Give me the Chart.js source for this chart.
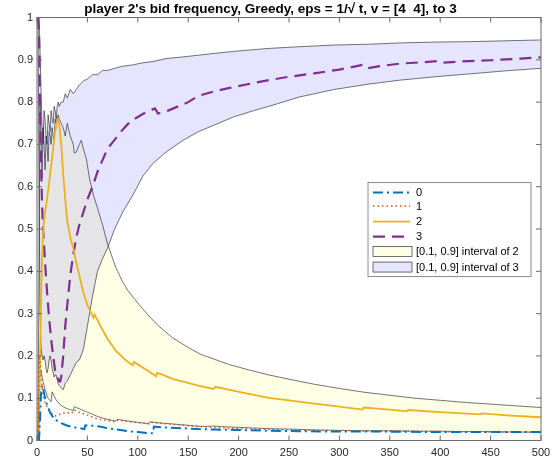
<!DOCTYPE html>
<html>
<head>
<meta charset="utf-8">
<script src="https://cdn.jsdelivr.net/npm/chart.js@4.4.1/dist/chart.umd.min.js"></script>
<style>
  html, body { margin: 0; padding: 0; background: #fff; }
  #wrap { width: 559px; height: 467px; }
</style>
</head>
<body>
<div id="wrap"><canvas id="bidChart" width="559" height="467"></canvas></div>
<script>
// bid 0 (blue dash-dot)
var t0 = [1, 2, 3, 4, 5, 6, 8, 10, 13, 16, 19, 23, 29, 35, 40, 45, 47, 48, 55, 62, 70, 79, 90, 100, 109, 115, 116, 125, 145, 160, 175, 200, 230, 260, 300, 350, 400, 450, 500];
var freq0 = [0, 0, 0.05, 0.11, 0.13, 0.125, 0.1, 0.085, 0.066, 0.055, 0.048, 0.042, 0.036, 0.032, 0.03, 0.028, 0.027, 0.036, 0.035, 0.033, 0.029, 0.026, 0.022, 0.02, 0.018, 0.017, 0.033, 0.031, 0.029, 0.027, 0.026, 0.025, 0.023, 0.022, 0.021, 0.021, 0.02, 0.02, 0.02];

// bid 1 (red dotted)
var t1 = [1, 2, 3, 4, 5, 6, 8, 10, 12, 14, 16, 18, 20, 23, 26, 30, 33, 36, 37, 40, 45, 50, 55, 62, 70, 79, 80, 90, 100, 112, 113, 125, 150, 175, 200, 250, 300, 350, 400, 450, 500];
var freq1 = [0, 0.2, 0.19, 0.16, 0.13, 0.11, 0.09, 0.08, 0.072, 0.066, 0.06, 0.058, 0.06, 0.062, 0.065, 0.064, 0.068, 0.066, 0.072, 0.068, 0.064, 0.06, 0.055, 0.05, 0.047, 0.044, 0.048, 0.045, 0.042, 0.039, 0.043, 0.04, 0.035, 0.031, 0.028, 0.025, 0.023, 0.022, 0.021, 0.02, 0.019];

// bid 2 (orange solid)
var t2 = [1, 2, 3, 4, 5, 6, 7, 8, 10, 12, 14, 16, 18, 20, 21, 22, 24, 26, 28, 30, 33, 36, 39, 42, 46, 50, 54, 56, 57, 60, 63, 70, 79, 88, 95, 96, 100, 110, 118, 119, 125, 135, 145, 160, 175, 177, 190, 210, 230, 250, 275, 300, 323, 324, 350, 367, 368, 400, 440, 441, 470, 500];
var freq2 = [0, 0.0, 0.2, 0.32, 0.43, 0.49, 0.52, 0.54, 0.57, 0.61, 0.65, 0.69, 0.73, 0.755, 0.76, 0.75, 0.7, 0.63, 0.57, 0.52, 0.48, 0.455, 0.42, 0.39, 0.35, 0.32, 0.3, 0.29, 0.298, 0.285, 0.27, 0.24, 0.21, 0.19, 0.178, 0.186, 0.18, 0.165, 0.152, 0.16, 0.155, 0.145, 0.139, 0.13, 0.122, 0.127, 0.12, 0.11, 0.101, 0.095, 0.087, 0.08, 0.073, 0.078, 0.073, 0.069, 0.072, 0.067, 0.062, 0.064, 0.059, 0.055];

// bid 3 (purple dashed)
var t3 = [1, 2, 3, 4, 5, 6, 8, 10, 12, 14, 16, 18, 20, 22, 23, 24, 26, 28, 30, 33, 36, 39, 42, 46, 50, 55, 60, 65, 70, 75, 80, 85, 90, 95, 100, 105, 110, 117, 120, 125, 130, 140, 150, 160, 175, 190, 210, 230, 250, 275, 300, 323, 327, 340, 360, 380, 398, 402, 420, 450, 480, 500];
var freq3 = [1, 0.97, 0.8, 0.65, 0.56, 0.5, 0.42, 0.35, 0.29, 0.24, 0.2, 0.165, 0.15, 0.14, 0.14, 0.15, 0.2, 0.27, 0.32, 0.39, 0.44, 0.48, 0.51, 0.54, 0.57, 0.6, 0.635, 0.663, 0.69, 0.705, 0.72, 0.735, 0.748, 0.758, 0.765, 0.772, 0.778, 0.785, 0.773, 0.776, 0.78, 0.79, 0.8, 0.815, 0.825, 0.833, 0.843, 0.852, 0.86, 0.868, 0.877, 0.888, 0.88, 0.885, 0.891, 0.894, 0.897, 0.893, 0.896, 0.899, 0.903, 0.906];

// [0.1, 0.9] interval of 2
var tBand2 = [1, 2, 3, 4, 5, 6, 7, 8, 9, 10, 11, 12, 13, 14, 15, 16, 17, 18, 19, 20, 21, 22, 24, 26, 28, 30, 33, 36, 37, 39, 42, 44, 46, 49, 52, 56, 60, 65, 70, 78, 80, 85, 90, 100, 110, 112, 120, 135, 150, 162, 175, 190, 210, 230, 250, 275, 300, 325, 350, 375, 400, 425, 450, 475, 500];
var low2 = [0, 0.1, 0.16, 0.165, 0.15, 0.14, 0.13, 0.12, 0.115, 0.105, 0.1, 0.097, 0.094, 0.092, 0.115, 0.11, 0.105, 0.1, 0.096, 0.093, 0.09, 0.087, 0.083, 0.08, 0.077, 0.075, 0.073, 0.071, 0.08, 0.078, 0.075, 0.073, 0.071, 0.068, 0.065, 0.061, 0.057, 0.053, 0.05, 0.046, 0.05, 0.048, 0.046, 0.043, 0.04, 0.044, 0.042, 0.039, 0.036, 0.033, 0.034, 0.032, 0.03, 0.028, 0.027, 0.025, 0.024, 0.023, 0.023, 0.022, 0.022, 0.021, 0.021, 0.02, 0.02];
var high2 = [0, 0.45, 0.8, 0.72, 0.62, 0.74, 0.7, 0.64, 0.72, 0.7, 0.66, 0.73, 0.72, 0.7, 0.74, 0.72, 0.71, 0.76, 0.75, 0.76, 0.77, 0.76, 0.75, 0.74, 0.72, 0.75, 0.72, 0.7, 0.68, 0.682, 0.7, 0.71, 0.69, 0.666, 0.62, 0.58, 0.55, 0.51, 0.465, 0.41, 0.4, 0.375, 0.355, 0.325, 0.297, 0.292, 0.272, 0.242, 0.22, 0.204, 0.193, 0.18, 0.167, 0.155, 0.145, 0.133, 0.123, 0.114, 0.107, 0.1, 0.095, 0.09, 0.086, 0.082, 0.078];

// [0.1, 0.9] interval of 3
var tBand3 = [1, 2, 3, 4, 5, 6, 7, 8, 9, 10, 11, 12, 13, 14, 15, 16, 17, 18, 19, 20, 21, 22, 24, 26, 28, 30, 33, 36, 39, 42, 46, 50, 55, 60, 65, 70, 77, 85, 95, 105, 115, 128, 145, 160, 175, 195, 215, 230, 260, 295, 330, 360, 395, 430, 465, 500];
var low3 = [1, 0.6, 0.3, 0.22, 0.2, 0.19, 0.2, 0.19, 0.17, 0.16, 0.17, 0.19, 0.2, 0.19, 0.17, 0.16, 0.15, 0.155, 0.155, 0.145, 0.135, 0.13, 0.125, 0.12, 0.135, 0.14, 0.155, 0.17, 0.185, 0.19, 0.215, 0.27, 0.34, 0.4, 0.43, 0.455, 0.5, 0.54, 0.58, 0.625, 0.655, 0.682, 0.71, 0.73, 0.745, 0.765, 0.78, 0.79, 0.812, 0.83, 0.843, 0.852, 0.86, 0.867, 0.874, 0.88];
var high3 = [1, 1, 0.92, 0.83, 0.74, 0.7, 0.78, 0.76, 0.72, 0.7, 0.77, 0.75, 0.73, 0.78, 0.76, 0.75, 0.79, 0.78, 0.76, 0.79, 0.8, 0.79, 0.8, 0.8, 0.82, 0.81, 0.83, 0.82, 0.83, 0.84, 0.85, 0.855, 0.865, 0.865, 0.875, 0.875, 0.88, 0.885, 0.888, 0.893, 0.896, 0.903, 0.907, 0.911, 0.915, 0.92, 0.924, 0.927, 0.931, 0.935, 0.937, 0.94, 0.942, 0.943, 0.945, 0.947];

var xTicks = [0, 50, 100, 150, 200, 250, 300, 350, 400, 450, 500];
var yTicks = [0, 0.1, 0.2, 0.3, 0.4, 0.5, 0.6, 0.7, 0.8, 0.9, 1];

var FONT = '"Liberation Sans", Arial, Helvetica, sans-serif';

function pts(ts, vs) {
    return ts.map(function (t, i) { return { x: t, y: vs[i] }; });
}

function lineSet(label, ts, vs, color, width, dash) {
    return {
        label: label, data: pts(ts, vs), borderColor: color, borderWidth: width,
        borderDash: dash, pointRadius: 0, fill: false, tension: 0
    };
}

var edgeColor = 'rgba(20,20,20,0.85)';

// lines first (drawn on top); band 3 before band 2 so lavender lands over yellow
var datasets = [
    lineSet('0', t0, freq0, '#0072BD', 2, [10, 4, 2, 4]),
    lineSet('1', t1, freq1, '#D95319', 1.5, [1.5, 3]),
    lineSet('2', t2, freq2, '#EDB120', 1.8, []),
    lineSet('3', t3, freq3, '#7E2F8E', 2.2, [12, 7]),
    lineSet('low3', tBand3, low3, edgeColor, 0.7, []),
    Object.assign(lineSet('[0.1, 0.9] interval of 3', tBand3, high3, edgeColor, 0.7, []),
        { fill: '-1', backgroundColor: 'rgba(0,0,255,0.1)' }),
    lineSet('low2', tBand2, low2, edgeColor, 0.7, []),
    Object.assign(lineSet('[0.1, 0.9] interval of 2', tBand2, high2, edgeColor, 0.7, []),
        { fill: '-1', backgroundColor: 'rgba(255,255,0,0.1)' })
];

// box, inward ticks on all four sides, and the legend inside the axes
var matlabAxes = {
    id: 'matlabAxes',
    afterDraw: function (chart) {
        var ctx = chart.ctx, a = chart.chartArea;
        var xs = chart.scales.x, ys = chart.scales.y;
        ctx.save();
        ctx.setLineDash([]);
        ctx.strokeStyle = '#6b6b6b';
        ctx.lineWidth = 1;
        ctx.strokeRect(a.left, a.top, a.right - a.left, a.bottom - a.top);
        var tl = 5;
        ctx.beginPath();
        xTicks.forEach(function (v) {
            var px = xs.getPixelForValue(v);
            ctx.moveTo(px, a.bottom); ctx.lineTo(px, a.bottom - tl);
            ctx.moveTo(px, a.top); ctx.lineTo(px, a.top + tl);
        });
        yTicks.forEach(function (v) {
            var py = ys.getPixelForValue(v);
            ctx.moveTo(a.left, py); ctx.lineTo(a.left + tl, py);
            ctx.moveTo(a.right, py); ctx.lineTo(a.right - tl, py);
        });
        ctx.stroke();

        // legend
        var lx = a.right - 173, ly = a.top + 165, lw = 163, lh = 94;
        ctx.fillStyle = '#fff';
        ctx.fillRect(lx, ly, lw, lh);
        ctx.strokeStyle = '#8a8a8a';
        ctx.lineWidth = 1;
        ctx.strokeRect(lx, ly, lw, lh);
        var rows = [10, 23.5, 39, 54, 69, 84.5];
        var order = [0, 1, 2, 3, 7, 5];
        ctx.font = '11px ' + FONT;
        ctx.textBaseline = 'middle';
        order.forEach(function (di, i) {
            var ds = chart.data.datasets[di];
            var ry = ly + rows[i];
            if (ds.fill) {
                ctx.fillStyle = '#fff';
                ctx.fillRect(lx + 5, ry - 5, 39, 10);
                ctx.fillStyle = ds.backgroundColor;
                ctx.fillRect(lx + 5, ry - 5, 39, 10);
                ctx.strokeStyle = '#333';
                ctx.lineWidth = 0.7;
                ctx.setLineDash([]);
                ctx.strokeRect(lx + 5, ry - 5, 39, 10);
            } else {
                ctx.strokeStyle = ds.borderColor;
                ctx.lineWidth = ds.borderWidth;
                ctx.setLineDash(ds.borderDash);
                ctx.beginPath();
                ctx.moveTo(lx + 5, ry);
                ctx.lineTo(lx + 42, ry);
                ctx.stroke();
                ctx.setLineDash([]);
            }
            ctx.fillStyle = '#000';
            ctx.fillText(ds.label, lx + 48, ry + 0.5);
        });
        ctx.restore();
    }
};

new Chart(document.getElementById('bidChart'), {
    type: 'line',
    data: { datasets: datasets },
    plugins: [matlabAxes],
    options: {
        responsive: false,
        animation: false,
        layout: { padding: { left: 0, right: 18, top: 0, bottom: 0 } },
        plugins: {
            legend: { display: false },
            tooltip: { enabled: false },
            title: {
                display: true,
                text: "player 2's bid frequency, Greedy, eps = 1/\u221A t, v = [4  4], to 3",
                color: '#000',
                font: { family: FONT, size: 13.5, weight: 'bold', lineHeight: 1.1 },
                padding: { top: 2, bottom: 0.7 }
            }
        },
        scales: {
            x: {
                type: 'linear', min: 0, max: 500,
                afterFit: function (s) { s.height = 26.5; },
                afterBuildTicks: function (s) { s.ticks = xTicks.map(function (v) { return { value: v }; }); },
                grid: { display: false, drawTicks: false },
                border: { display: false },
                ticks: {
                    color: '#262626', padding: 6, maxRotation: 0, font: { family: FONT, size: 11 },
                    callback: function (v) { return String(v); }
                }
            },
            y: {
                type: 'linear', min: 0, max: 1,
                afterFit: function (s) { s.width = 37; },
                afterBuildTicks: function (s) { s.ticks = yTicks.map(function (v) { return { value: v }; }); },
                grid: { display: false, drawTicks: false },
                border: { display: false },
                ticks: {
                    color: '#262626', padding: 4, font: { family: FONT, size: 11 },
                    callback: function (v) { return String(Math.round(v * 10) / 10); }
                }
            }
        }
    }
});
</script>
</body>
</html>
